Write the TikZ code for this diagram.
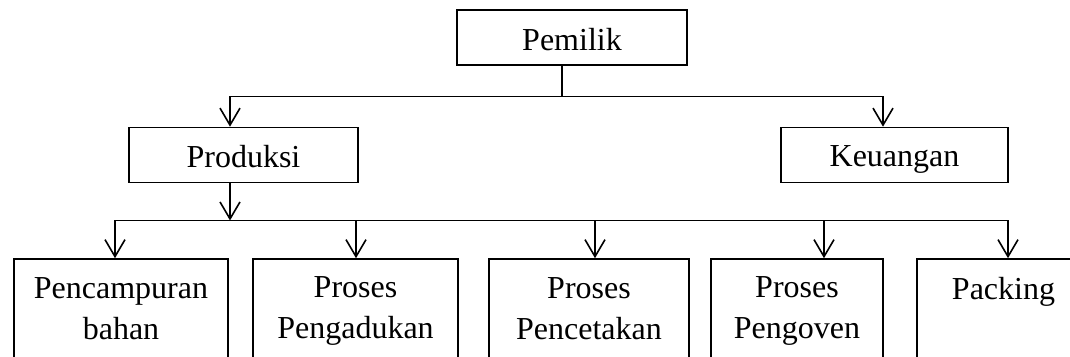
\documentclass[tikz,border=0pt]{standalone}
\usepackage{fontspec}
\setmainfont{Liberation Serif}
\usetikzlibrary{arrows.meta}
\usetikzlibrary{positioning}
\newcommand{\topstrut}[0]{\rule{0pt}{15pt}}
\newcommand{\botstrut}[0]{\rule[-2pt]{0pt}{2pt}}

\begin{document}
\begin{tikzpicture}[x=0.5pt, y=-0.5pt, >={Straight Barb[length=8.5pt,width=10pt]}, line width=0.8pt]
  \tikzset{every node/.style={font=\fontsize{16}{20.5}\selectfont},
    unit/.style={draw, rectangle, inner sep=0pt, align=center,
      execute at begin node=\topstrut, execute at end node=\botstrut}}
  \clip (0,0) rectangle (1070,357);

  \node[unit, minimum width=115pt, minimum height=27.5pt] (pemilik) at (572,37.5) {Pemilik};
  \node[unit, minimum width=114.5pt, minimum height=27.5pt] (produksi) at (243.5,155) {Produksi};
  \node[unit, minimum width=113.5pt, minimum height=27.5pt] (keuangan) at (894.5,155) {Keuangan};

  % bagian produksi (terpotong di bawah)
  \node[unit, minimum width=107pt, minimum height=51.5pt] (campur) at (121,310.5) {Pencampuran\\bahan};
  \node[unit, minimum width=102.5pt, minimum height=51.5pt] (aduk) at (355.5,310.5) {Proses\\Pengadukan};
  \node[unit, minimum width=100pt, minimum height=51.5pt] (cetak) at (589,310.5) {Proses\\Pencetakan};
  \node[unit, minimum width=86pt, minimum height=51.5pt] (oven) at (797,310.5) {Proses\\Pengoven};
  \node[unit, minimum width=86.5pt, minimum height=51.5pt] (packing) at (1003.5,310.5) {Packing\\\mbox{}};

  \coordinate (top) at (562,96.5);
  \coordinate (prodin) at (230,96.5);
  \coordinate (keuin) at (883,96.5);
  \draw[->] (pemilik.south -| top) -- (top) -| (prodin |- produksi.north);
  \draw[->] (top) -| (keuin |- keuangan.north);

  \coordinate (bus) at (230,220.5);
  \coordinate (d1) at (115,220.5);
  \coordinate (d2) at (356,220.5);
  \coordinate (d3) at (595,220.5);
  \coordinate (d4) at (824,220.5);
  \coordinate (d5) at (1008,220.5);
  \draw[->] (produksi.south -| bus) -- (bus);
  \draw (d1) -- (d5);
  \foreach \d/\b in {d1/campur, d2/aduk, d3/cetak, d4/oven, d5/packing}
    \draw[->] (\d) -- (\d |- \b.north);
\end{tikzpicture}
\end{document}
